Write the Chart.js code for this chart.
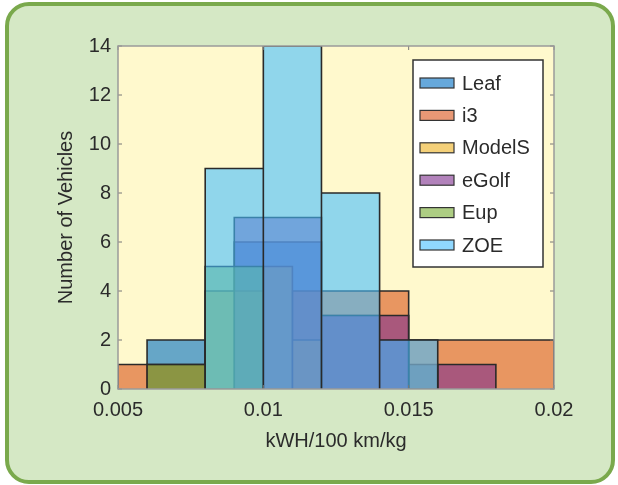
<!DOCTYPE html>
<html>
<head>
<meta charset="utf-8">
<script src="https://cdn.jsdelivr.net/npm/chart.js@4.4.0/dist/chart.umd.min.js"></script>
<style>
  html, body { margin: 0; padding: 0; background: #fff; }
  #frame { position: absolute; left: 5px; top: 2px; width: 610px; height: 482px; box-sizing: border-box;
           border: 4px solid #7aa94c; border-radius: 24px; background: #d5e8c5; }
  #myChart { position: absolute; left: 0; top: 0; }
</style>
</head>
<body>
<div id="frame"></div>
<canvas id="myChart" width="618" height="485"></canvas>
<script>
// histogram bins per vehicle (bin edges, counts)
var seriesNames = ['Leaf', 'i3', 'ModelS', 'eGolf', 'Eup', 'ZOE'];

var leafEdges   = [0.006, 0.008, 0.009, 0.012, 0.014, 0.015, 0.016];
var leafCounts  = [2, 0, 6, 3, 2, 1];

var i3Edges     = [0.005, 0.008, 0.011, 0.015, 0.020];
var i3Counts    = [1, 0, 4, 2];

var modelSEdges  = [0.008, 0.010, 0.011, 0.012];
var modelSCounts = [4, 5, 2];

var eGolfEdges  = [0.009, 0.012, 0.015, 0.016, 0.018];
var eGolfCounts = [7, 3, 0, 1];

var eupEdges    = [0.006, 0.008, 0.010];
var eupCounts   = [1, 5];

var zoeEdges    = [0.008, 0.010, 0.012, 0.014, 0.016];
var zoeCounts   = [9, 14, 8, 2];

var xTicks = [0.005, 0.01, 0.015, 0.02];
var xTickLabels = ['0.005', '0.01', '0.015', '0.02'];
var yTicks = [0, 2, 4, 6, 8, 10, 12, 14];

var colors = ['0, 110, 195', '217, 83, 25', '237, 177, 32', '126, 47, 142', '119, 172, 48', '70, 190, 255'];
var FONT = '"Liberation Sans", Arial, sans-serif';
var TEXT = '#2b2b2b';

// bars as outline: up the left edge, across, down the right edge
function outline(edges, counts) {
  var pts = [];
  for (var i = 0; i < counts.length; i++) {
    pts.push({x: edges[i], y: 0}, {x: edges[i], y: counts[i]},
             {x: edges[i + 1], y: counts[i]}, {x: edges[i + 1], y: 0});
  }
  return pts;
}

var allEdges = [leafEdges, i3Edges, modelSEdges, eGolfEdges, eupEdges, zoeEdges];
var allCounts = [leafCounts, i3Counts, modelSCounts, eGolfCounts, eupCounts, zoeCounts];

var datasets = seriesNames.map(function(name, i) {
  return {
    label: name,
    data: outline(allEdges[i], allCounts[i]),
    showLine: true,
    fill: 'origin',
    backgroundColor: 'rgba(' + colors[i] + ', 0.6)',
    borderColor: '#2a2a2a',
    borderWidth: 1.6,
    pointRadius: 0,
    tension: 0,
    order: seriesNames.length - 1 - i   // last series painted on top
  };
});

var plotBox = {
  id: 'plotBox',
  beforeDraw: function(chart) {
    var a = chart.chartArea, ctx = chart.ctx;
    ctx.save();
    ctx.fillStyle = '#fff9cd';
    ctx.fillRect(a.left, a.top, a.right - a.left, a.bottom - a.top);
    ctx.restore();
  },
  afterDatasetsDraw: function(chart) {
    var a = chart.chartArea, ctx = chart.ctx;
    var xs = chart.scales.x, ys = chart.scales.y;
    ctx.save();
    ctx.strokeStyle = '#777';
    ctx.lineWidth = 1;
    xTicks.forEach(function(v) {
      var px = xs.getPixelForValue(v);
      ctx.beginPath();
      ctx.moveTo(px, a.bottom); ctx.lineTo(px, a.bottom - 4);
      ctx.moveTo(px, a.top); ctx.lineTo(px, a.top + 4);
      ctx.stroke();
    });
    yTicks.forEach(function(v) {
      var py = ys.getPixelForValue(v);
      ctx.beginPath();
      ctx.moveTo(a.left, py); ctx.lineTo(a.left + 4, py);
      ctx.moveTo(a.right, py); ctx.lineTo(a.right - 4, py);
      ctx.stroke();
    });
    ctx.strokeStyle = '#9a9a9a';
    ctx.lineWidth = 1.5;
    ctx.strokeRect(a.left, a.top, a.right - a.left, a.bottom - a.top);
    ctx.restore();
  },
  afterDraw: function(chart) {
    var a = chart.chartArea, ctx = chart.ctx;
    var bx = a.right - 141, by = a.top + 14, bw = 130, bh = 207;
    ctx.save();
    ctx.fillStyle = '#fff';
    ctx.fillRect(bx, by, bw, bh);
    ctx.strokeStyle = '#333';
    ctx.lineWidth = 1.5;
    ctx.strokeRect(bx, by, bw, bh);
    ctx.font = '20px ' + FONT;
    ctx.textBaseline = 'middle';
    chart.data.datasets.forEach(function(ds, i) {
      var cy = by + 23 + i * 32.4;
      ctx.fillStyle = ds.backgroundColor;
      ctx.fillRect(bx + 7, cy - 5, 34, 10);
      ctx.strokeStyle = '#333';
      ctx.lineWidth = 1.2;
      ctx.strokeRect(bx + 7, cy - 5, 34, 10);
      ctx.fillStyle = TEXT;
      ctx.fillText(ds.label, bx + 49, cy + 1);
    });
    ctx.restore();
  }
};

var ctx = document.getElementById('myChart').getContext('2d');
var myChart = new Chart(ctx, {
  type: 'scatter',
  data: { datasets: datasets },
  plugins: [plotBox],
  options: {
    responsive: false,
    animation: false,
    events: [],
    layout: { padding: { left: 50, right: 64, top: 46, bottom: 28 } },
    plugins: {
      legend: { display: false },
      tooltip: { enabled: false }
    },
    scales: {
      x: {
        type: 'linear',
        min: 0.005,
        max: 0.02,
        afterBuildTicks: function(s) { s.ticks = xTicks.map(function(v) { return {value: v}; }); },
        afterFit: function(s) { s.height = 68; },
        grid: { display: false, drawTicks: false },
        border: { display: false },
        ticks: {
          padding: 9,
          color: TEXT,
          font: { family: FONT, size: 20 },
          maxRotation: 0,
          callback: function(v, i) { return xTickLabels[i]; }
        },
        title: {
          display: true,
          text: 'kWH/100 km/kg',
          color: TEXT,
          font: { family: FONT, size: 20 }
        }
      },
      y: {
        min: 0,
        max: 14,
        afterFit: function(s) { s.width = 68; },
        grid: { display: false, drawTicks: false },
        border: { display: false },
        ticks: {
          stepSize: 2,
          padding: 7,
          color: TEXT,
          font: { family: FONT, size: 20 }
        },
        title: {
          display: true,
          text: 'Number of Vehicles',
          color: TEXT,
          font: { family: FONT, size: 20 }
        }
      }
    }
  }
});
</script>
</body>
</html>
